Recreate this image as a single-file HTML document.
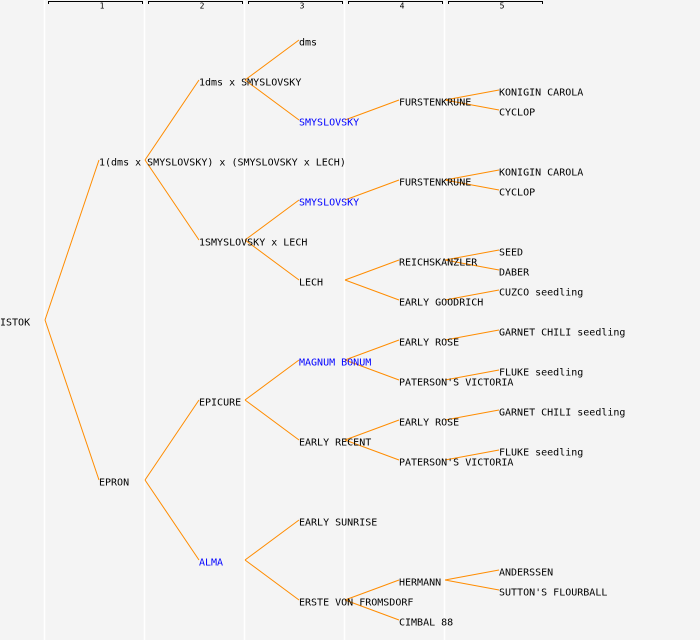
<!DOCTYPE html>
<html><head><meta charset="utf-8"><style>
html,body{margin:0;padding:0;background:#f4f4f4;}
svg{display:block}
text{font-family:"DejaVu Sans Mono","Liberation Mono",monospace;font-size:10px;fill:#000;dominant-baseline:central}
.b{fill:#0000ff}
.h{font-size:8px;text-anchor:middle}
</style></head><body>
<svg width="700" height="640" viewBox="0 0 700 640" xmlns="http://www.w3.org/2000/svg">
<rect width="700" height="640" fill="#f4f4f4"/>
<g stroke="#ffffff" stroke-width="1.5">
<line x1="44.5" y1="0" x2="44.5" y2="640"/><line x1="144.5" y1="0" x2="144.5" y2="640"/>
<line x1="244.5" y1="0" x2="244.5" y2="640"/><line x1="344.5" y1="0" x2="344.5" y2="640"/>
<line x1="444.5" y1="0" x2="444.5" y2="640"/>
</g>
<g stroke="#000" fill="none" stroke-width="1">
<path d="M48.5 4V1.5H142.5V4"/><path d="M148.5 4V1.5H242.5V4"/><path d="M248.5 4V1.5H342.5V4"/><path d="M348.5 4V1.5H442.5V4"/><path d="M448.5 4V1.5H542.5V4"/>
</g>
<text class="h" x="102" y="6">1</text><text class="h" x="202" y="6">2</text><text class="h" x="302" y="6">3</text><text class="h" x="402" y="6">4</text><text class="h" x="502" y="6">5</text>
<g stroke="#ff8c00" stroke-width="1" fill="none">
<path d="M45 320L99 160M45 320L99 480"/>
<path d="M145 160L199 80M145 160L199 240M145 480L199 400M145 480L199 560"/>
<path d="M245 80L299 40M245 80L299 120M245 240L299 200M245 240L299 280M245 400L299 360M245 400L299 440M245 560L299 520M245 560L299 600"/>
<path d="M345 120L399 100M345 200L399 180M345 280L399 260M345 280L399 300M345 360L399 340M345 360L399 380M345 440L399 420M345 440L399 460M345 600L399 580M345 600L399 620"/>
<path d="M445 100L499 90M445 100L499 110M445 180L499 170M445 180L499 190M445 260L499 250M445 260L499 270M445 300L499 290M445 340L499 330M445 380L499 370M445 420L499 410M445 460L499 450M445 580L499 570M445 580L499 590"/>
</g>
<g transform="translate(0,1)">
<text x="0" y="322">ISTOK</text>
<text x="99" y="162">1(dms x SMYSLOVSKY) x (SMYSLOVSKY x LECH)</text>
<text x="99" y="482">EPRON</text>
<text x="199" y="82">1dms x SMYSLOVSKY</text>
<text x="199" y="242">1SMYSLOVSKY x LECH</text>
<text x="199" y="402">EPICURE</text>
<text class="b" x="199" y="562">ALMA</text>
<text x="299" y="42">dms</text>
<text class="b" x="299" y="122">SMYSLOVSKY</text>
<text class="b" x="299" y="202">SMYSLOVSKY</text>
<text x="299" y="282">LECH</text>
<text class="b" x="299" y="362">MAGNUM BONUM</text>
<text x="299" y="442">EARLY RECENT</text>
<text x="299" y="522">EARLY SUNRISE</text>
<text x="299" y="602">ERSTE VON FROMSDORF</text>
<text x="399" y="102">FURSTENKRUNE</text>
<text x="399" y="182">FURSTENKRUNE</text>
<text x="399" y="262">REICHSKANZLER</text>
<text x="399" y="302">EARLY GOODRICH</text>
<text x="399" y="342">EARLY ROSE</text>
<text x="399" y="382">PATERSON'S VICTORIA</text>
<text x="399" y="422">EARLY ROSE</text>
<text x="399" y="462">PATERSON'S VICTORIA</text>
<text x="399" y="582">HERMANN</text>
<text x="399" y="622">CIMBAL 88</text>
<text x="499" y="92">KONIGIN CAROLA</text>
<text x="499" y="112">CYCLOP</text>
<text x="499" y="172">KONIGIN CAROLA</text>
<text x="499" y="192">CYCLOP</text>
<text x="499" y="252">SEED</text>
<text x="499" y="272">DABER</text>
<text x="499" y="292">CUZCO seedling</text>
<text x="499" y="332">GARNET CHILI seedling</text>
<text x="499" y="372">FLUKE seedling</text>
<text x="499" y="412">GARNET CHILI seedling</text>
<text x="499" y="452">FLUKE seedling</text>
<text x="499" y="572">ANDERSSEN</text>
<text x="499" y="592">SUTTON'S FLOURBALL</text>
</g>
</svg>
</body></html>
